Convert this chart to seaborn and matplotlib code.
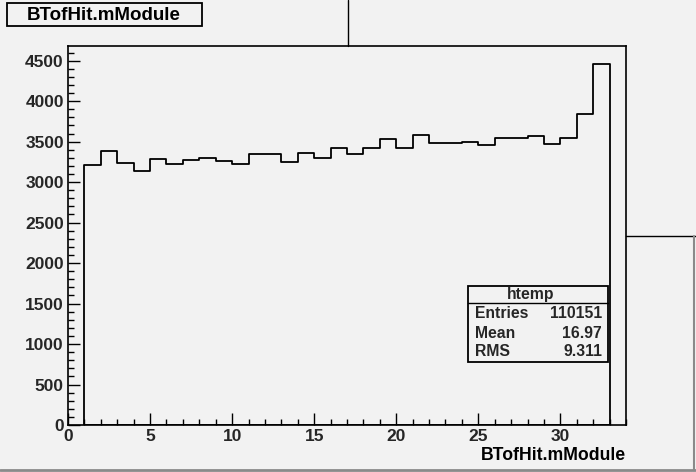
import numpy as np
import pandas as pd
import seaborn as sns
import matplotlib.pyplot as plt
from matplotlib.lines import Line2D
from matplotlib.patches import Rectangle
from matplotlib.ticker import MultipleLocator

# ---- data ----
bin_edges = list(range(1, 34))
counts = [3207, 3388, 3231, 3140, 3289, 3223, 3275, 3302, 3260, 3219,
          3343, 3343, 3252, 3364, 3293, 3426, 3343, 3426, 3537, 3422,
          3578, 3488, 3488, 3500, 3454, 3541, 3541, 3570, 3475, 3541,
          3838, 4458]
title = "BTofHit.mModule"
xlabel = "BTofHit.mModule"
stats_name = "htemp"
stats_labels = ["Entries", "Mean", "RMS"]
stats_values = ["110151", "16.97", "9.311"]

sns.set_theme(style="white")
plt.rcParams['font.family'] = ['Liberation Sans', 'DejaVu Sans']
plt.rcParams['font.weight'] = 'bold'

bg = '#f2f2f2'
W, H = 696, 472
fig = plt.figure(figsize=(W / 100, H / 100), dpi=100, facecolor=bg)

def fx(px):
    return px / W

def fy(py):
    return 1 - py / H

ax = fig.add_axes([fx(68), fy(425), fx(626) - fx(68), fy(46) - fy(425)])
ax.set_facecolor(bg)

centers = [(a + b) / 2 for a, b in zip(bin_edges[:-1], bin_edges[1:])]
df = pd.DataFrame({"x": centers, "w": counts})
sns.histplot(data=df, x="x", weights="w", bins=bin_edges, element="step",
             fill=True, color="black", facecolor="none", edgecolor="black",
             linewidth=1.3, ax=ax)

ax.set_xlim(0, 34)
ax.set_ylim(0, 1.05 * max(counts))
ax.set_xlabel("")
ax.set_ylabel("")
ax.xaxis.set_major_locator(MultipleLocator(5))
ax.xaxis.set_minor_locator(MultipleLocator(1))
ax.yaxis.set_major_locator(MultipleLocator(500))
ax.yaxis.set_minor_locator(MultipleLocator(100))
ax.tick_params(which='major', direction='in', length=8.5, width=1.0,
               color='black', labelsize=12.5, pad=3,
               bottom=True, left=True, top=False, right=False)
ax.tick_params(which='minor', direction='in', length=4.3, width=1.0,
               color='black', bottom=True, left=True, top=False, right=False)
for lab in ax.get_xticklabels() + ax.get_yticklabels():
    lab.set_fontweight('bold')
for s in ax.spines.values():
    s.set_color('black')
    s.set_linewidth(1.2)
    s.set_visible(True)

# x-axis title
fig.text(fx(626), fy(456), xlabel, ha='right', va='center',
         fontsize=12.7, fontweight='bold', color='black')

# title box
fig.patches.append(Rectangle((fx(7), fy(26)), fx(202) - fx(7), fy(3) - fy(26),
                             transform=fig.transFigure, facecolor=bg,
                             edgecolor='black', linewidth=1.3))
fig.text(fx(104), fy(15), title, ha='center', va='center',
         fontsize=13.5, fontweight='bold', color='black')

# stats box
fig.patches.append(Rectangle((fx(468), fy(362)), fx(608) - fx(468), fy(286) - fy(362),
                             transform=fig.transFigure, facecolor=bg,
                             edgecolor='black', linewidth=1.3, zorder=5))
fig.add_artist(Line2D([fx(468), fx(608)], [fy(303), fy(303)], color='black', lw=1.0, zorder=6))
fig.text(fx(531), fy(294.5), stats_name, ha='center', va='center',
         fontsize=11.3, fontweight='bold', zorder=7)
for i, (lab, val) in enumerate(zip(stats_labels, stats_values)):
    yy = 314 + i * 19
    fig.text(fx(475), fy(yy), lab, ha='left', va='center',
             fontsize=11.3, fontweight='bold', zorder=7)
    fig.text(fx(602), fy(yy), val, ha='right', va='center',
             fontsize=11.3, fontweight='bold', zorder=7)

# stray pad edges seen on the canvas
fig.add_artist(Line2D([fx(348), fx(348)], [fy(0), fy(46)], color='black', lw=1.0))
fig.add_artist(Line2D([fx(626), fx(696)], [fy(236), fy(236)], color='black', lw=1.0))
# canvas bevel
fig.add_artist(Line2D([0, 1], [fy(470), fy(470)], color='#8a8a8a', lw=2.0))
fig.add_artist(Line2D([fx(694), fx(694)], [fy(236), fy(470)], color='#8a8a8a', lw=1.5))

fig.savefig("out.png", dpi=100, facecolor=bg)
